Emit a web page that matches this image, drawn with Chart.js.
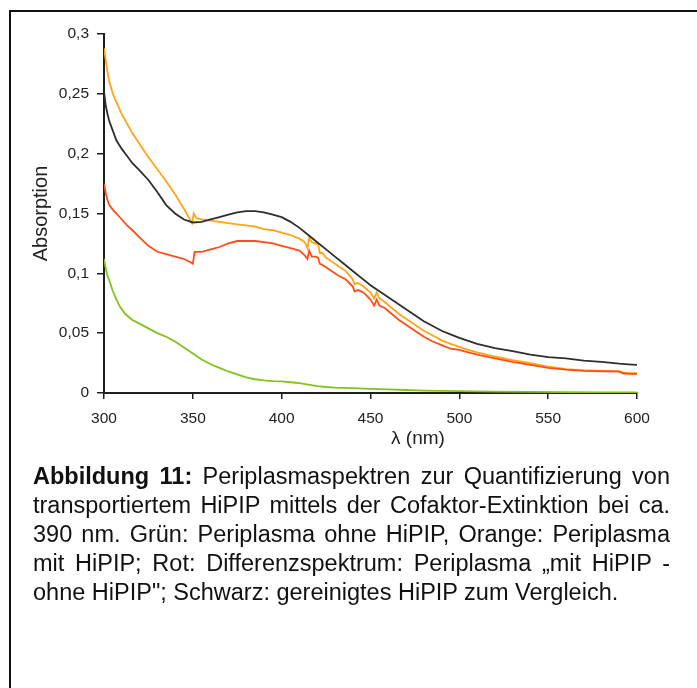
<!DOCTYPE html>
<html><head><meta charset="utf-8">
<script src="https://cdn.jsdelivr.net/npm/chart.js@4/dist/chart.umd.min.js"></script>
<style>
html,body{margin:0;padding:0;background:#fff;}
#wrap{position:relative;width:697px;height:688px;overflow:hidden;background:#fff;}
#c{position:absolute;left:0;top:0;}
#frame{position:absolute;left:9px;top:10px;width:760px;height:760px;border-left:2px solid #111;border-top:2px solid #111;}
#xt{position:absolute;left:418px;top:438px;transform:translate(-50%,-50%);font:19px "Liberation Sans",Arial,sans-serif;color:#222;white-space:nowrap;}
#cap{position:absolute;left:33px;top:462px;width:637px;font-family:"Liberation Sans",Arial,sans-serif;font-size:23.5px;color:#111;line-height:29px;}
#cap .j{text-align:justify;text-align-last:justify;}
</style></head>
<body>
<div id="wrap">
<canvas id="c" width="697" height="688"></canvas>
<div id="frame"></div>
<div id="xt">λ (nm)</div>
<div id="cap">
<div class="j"><b>Abbildung 11:</b> Periplasmaspektren zur Quantifizierung von</div>
<div class="j">transportiertem HiPIP mittels der Cofaktor-Extinktion bei ca.</div>
<div class="j">390 nm. Grün: Periplasma ohne HiPIP, Orange: Periplasma</div>
<div class="j">mit HiPIP; Rot: Differenzspektrum: Periplasma „mit HiPIP -</div>
<div><span id="lastspan">ohne HiPIP"; Schwarz: gereinigtes HiPIP zum Vergleich.</span></div>
</div>
</div>
<script>
// ---- data ----
const xTickValues = [300, 350, 400, 450, 500, 550, 600];
const xTickLabels = ['300', '350', '400', '450', '500', '550', '600'];
const yTickValues = [0, 0.05, 0.1, 0.15, 0.2, 0.25, 0.3];
const yTickLabels = ['0', '0,05', '0,1', '0,15', '0,2', '0,25', '0,3'];

const blackNm = [300,301,302,303,305,307,310,313,316,320,325,330,335,340,345,350,355,360,365,370,375,380,385,390,395,400,405,410,415,420,425,430,435,440,445,450,455,460,465,470,475,480,485,490,495,500,510,520,530,540,550,560,570,580,590,595,600];
const blackAbs = [0.252,0.240,0.233,0.227,0.219,0.211,0.204,0.198,0.192,0.186,0.178,0.168,0.157,0.150,0.145,0.1425,0.143,0.145,0.147,0.149,0.151,0.152,0.152,0.151,0.149,0.147,0.143,0.138,0.132,0.126,0.120,0.114,0.108,0.102,0.096,0.090,0.085,0.080,0.075,0.070,0.065,0.060,0.056,0.052,0.049,0.046,0.041,0.0375,0.035,0.032,0.030,0.029,0.027,0.026,0.0245,0.024,0.0235];

const orangeNm = [300,301,302,303,305,307,310,313,316,320,325,330,335,340,345,348,349.5,350.5,352,355,360,365,370,375,380,385,390,395,400,405,410,413,414.5,415.5,417,419,420.5,421.5,423,425,428,432,436,440,441,443,446,450,452,453.5,455,458,462,466,470,475,480,485,490,495,500,505,510,520,530,540,550,560,570,580,590,592,595,600];
const orangeAbs = [0.288,0.278,0.268,0.260,0.250,0.243,0.233,0.225,0.217,0.208,0.197,0.187,0.177,0.166,0.154,0.146,0.142,0.150,0.146,0.145,0.144,0.143,0.142,0.141,0.140,0.139,0.137,0.136,0.134,0.132,0.129,0.126,0.121,0.130,0.126,0.125,0.124,0.117,0.117,0.113,0.110,0.106,0.102,0.095,0.091,0.092,0.089,0.084,0.079,0.084,0.079,0.076,0.071,0.066,0.062,0.057,0.052,0.048,0.044,0.041,0.0385,0.036,0.034,0.0305,0.0275,0.025,0.022,0.020,0.019,0.0185,0.0183,0.017,0.0167,0.0165];

const redNm = [300,301,302,303,305,307,310,313,316,320,325,330,335,340,345,349,350,351,355,360,365,370,375,380,385,390,395,400,405,410,413,414.5,415.5,417,419,420.5,421.5,423,425,428,432,436,440,441,443,446,450,452,453.5,455,458,462,466,470,475,480,485,490,495,500,505,510,520,530,540,550,560,570,580,590,592,595,600];
const redAbs = [0.175,0.167,0.161,0.157,0.153,0.150,0.145,0.140,0.136,0.130,0.123,0.118,0.116,0.114,0.112,0.109,0.108,0.118,0.118,0.120,0.122,0.125,0.127,0.127,0.127,0.126,0.125,0.123,0.121,0.119,0.115,0.112,0.119,0.114,0.114,0.113,0.108,0.107,0.105,0.102,0.098,0.095,0.089,0.085,0.086,0.084,0.078,0.073,0.078,0.073,0.071,0.066,0.061,0.057,0.052,0.047,0.043,0.040,0.037,0.036,0.034,0.032,0.029,0.026,0.0235,0.021,0.0195,0.0185,0.018,0.0178,0.0165,0.016,0.016];

const greenNm = [300,301,302,303,305,307,309,312,316,320,325,330,335,340,345,350,355,360,365,370,375,380,385,390,395,400,405,410,415,420,425,430,440,450,460,470,480,490,500,520,540,560,580,600];
const greenAbs = [0.112,0.104,0.098,0.094,0.085,0.078,0.072,0.066,0.061,0.058,0.054,0.050,0.047,0.043,0.038,0.033,0.028,0.024,0.021,0.018,0.0155,0.013,0.0115,0.0105,0.010,0.0097,0.009,0.0083,0.007,0.0058,0.005,0.0045,0.004,0.0035,0.003,0.0025,0.002,0.0018,0.0015,0.0012,0.001,0.0008,0.0006,0.0005];

const seriesNames = ['Grün: Periplasma ohne HiPIP', 'Orange: Periplasma mit HiPIP', 'Rot: Differenzspektrum', 'Schwarz: gereinigtes HiPIP'];

function pts(xs, ys) { return xs.map((x, i) => ({x: x, y: ys[i]})); }

const FONT = '"Liberation Sans", Arial, sans-serif';
const AX = '#1e1e1e';

new Chart(document.getElementById('c'), {
  type: 'line',
  data: {
    datasets: [
      {label: seriesNames[3], data: pts(blackNm, blackAbs), borderColor: '#2e2e2e'},
      {label: seriesNames[2], data: pts(redNm, redAbs), borderColor: '#ff4d1a'},
      {label: seriesNames[1], data: pts(orangeNm, orangeAbs), borderColor: '#ffa516'},
      {label: seriesNames[0], data: pts(greenNm, greenAbs), borderColor: '#82c21f'}
    ].map(d => Object.assign(d, {borderWidth: 1.8, pointRadius: 0, fill: false, tension: 0}))
  },
  options: {
    responsive: false,
    animation: false,
    layout: {padding: {left: 0, right: 60, top: 34, bottom: 245}},
    plugins: {legend: {display: false}, tooltip: {enabled: false}},
    scales: {
      x: {
        type: 'linear', min: 300, max: 600,
        afterBuildTicks: s => { s.ticks = xTickValues.map(v => ({value: v})); },
        afterFit: s => { s.height = 50; },
        ticks: {
          callback: v => xTickLabels[xTickValues.indexOf(v)],
          font: {family: FONT, size: 15.5}, color: '#222', padding: 10, maxRotation: 0
        },
        grid: {drawOnChartArea: false, drawTicks: true, tickLength: 6, color: AX, lineWidth: 1.5},
        border: {color: AX, width: 2},
        title: {display: false}
      },
      y: {
        type: 'linear', min: 0, max: 0.3,
        afterBuildTicks: s => { s.ticks = yTickValues.map(v => ({value: v})); },
        afterFit: s => { s.width = 104; },
        ticks: {
          callback: v => yTickLabels[yTickValues.findIndex(t => Math.abs(t - v) < 1e-9)],
          font: {family: FONT, size: 15.5}, color: '#222', padding: 8
        },
        grid: {drawOnChartArea: false, drawTicks: true, tickLength: 7, color: AX, lineWidth: 1.5},
        border: {color: AX, width: 2},
        title: {display: true, text: 'Absorption', font: {family: FONT, size: 20}, color: '#222', padding: {top: 29, bottom: 0}}
      }
    }
  }
});
</script>
</body></html>
